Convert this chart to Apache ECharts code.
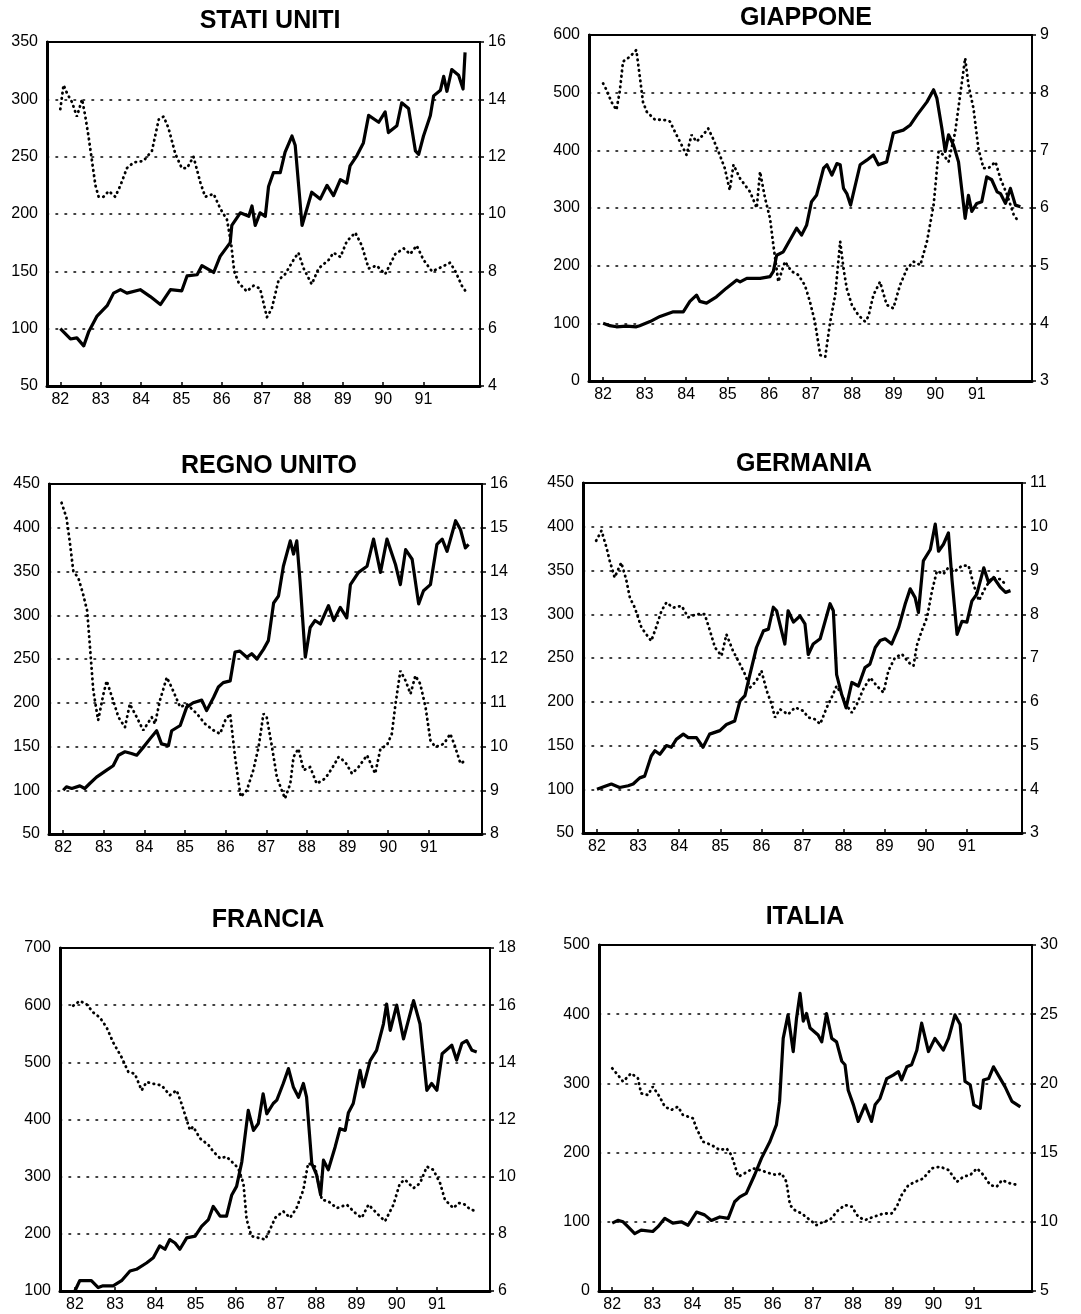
<!DOCTYPE html>
<html><head><meta charset="utf-8">
<script src="https://cdn.jsdelivr.net/npm/echarts/dist/echarts.min.js"></script>
<style>html,body{margin:0;padding:0;background:#fff}#chart{width:1081px;height:1314px}</style>
</head><body><div id="chart"></div>
<script>
const yearTicks = [82,83,84,85,86,87,88,89,90,91];

// STATI UNITI
const usStockT = [82.00,82.25,82.41,82.58,82.70,82.91,83.16,83.32,83.49,83.65,83.98,84.23,84.48,84.73,85.01,85.14,85.39,85.51,85.80,85.96,86.21,86.25,86.46,86.67,86.75,86.83,86.95,87.08,87.16,87.28,87.45,87.57,87.74,87.82,87.99,88.23,88.44,88.61,88.77,88.94,89.10,89.18,89.35,89.51,89.64,89.89,90.05,90.13,90.34,90.46,90.63,90.80,90.88,91.00,91.17,91.25,91.42,91.50,91.58,91.70,91.87,91.98,92.03];
const usStock  = [100,91,92,85,97,111,120,131,134,131,134,128,121,134,133,146,147,155,149,163,175,190,201,198,207,190,201,198,224,236,236,254,268,260,190,219,213,225,216,230,227,242,251,262,286,280,289,271,277,297,292,255,252,268,286,303,308,320,307,326,321,309,341];
const usRateT  = [82.00,82.08,82.17,82.29,82.41,82.54,82.62,82.70,82.78,82.87,82.95,83.07,83.20,83.36,83.49,83.65,83.82,84.06,84.27,84.44,84.56,84.68,84.85,85.01,85.14,85.30,85.47,85.59,85.80,85.96,86.13,86.23,86.31,86.42,86.62,86.79,86.95,87.12,87.24,87.41,87.57,87.78,87.90,88.03,88.23,88.40,88.65,88.77,88.94,89.10,89.31,89.47,89.64,89.84,90.05,90.30,90.51,90.67,90.83,91.00,91.21,91.37,91.66,91.79,91.95,92.07];
const usRate   = [13.66,14.5,14.2,13.9,13.4,14.0,13.4,12.7,11.9,11.0,10.6,10.6,10.8,10.6,11.0,11.6,11.8,11.85,12.2,13.3,13.4,13.0,12.1,11.6,11.6,12.0,11.1,10.6,10.7,10.2,9.8,9.0,8.0,7.6,7.3,7.5,7.4,6.4,6.7,7.7,7.9,8.4,8.65,8.1,7.55,8.1,8.4,8.65,8.5,9.05,9.35,8.9,8.1,8.2,7.9,8.6,8.8,8.6,8.9,8.4,8.0,8.1,8.3,8.0,7.5,7.25];

// GIAPPONE
const jpStockT = [82.00,82.16,82.32,82.56,82.80,82.88,83.13,83.37,83.69,83.93,84.09,84.25,84.33,84.49,84.73,84.97,85.22,85.30,85.46,85.78,86.02,86.10,86.18,86.34,86.66,86.78,86.90,87.02,87.14,87.31,87.39,87.51,87.63,87.71,87.79,87.87,87.96,88.19,88.35,88.51,88.63,88.83,88.99,89.23,89.40,89.56,89.80,89.96,90.04,90.16,90.24,90.32,90.44,90.56,90.72,90.80,90.88,91.00,91.12,91.24,91.36,91.49,91.57,91.69,91.81,91.93,92.05];
const jpStock  = [100,96,94,95,94,96,103,112,120,120,138,149,138,135,146,161,175,172,178,178,181,190,218,224,265,253,270,311,322,369,375,357,377,375,334,325,305,375,383,392,375,380,430,435,444,461,484,505,490,438,398,427,409,380,282,322,294,308,311,354,349,328,325,308,334,305,302];
const jpRateT  = [82.00,82.08,82.20,82.32,82.40,82.48,82.60,82.68,82.80,82.88,82.96,83.05,83.25,83.45,83.61,83.73,83.85,84.01,84.13,84.25,84.41,84.53,84.65,84.81,84.93,85.05,85.14,85.30,85.54,85.70,85.78,85.90,86.02,86.10,86.22,86.38,86.54,86.70,86.86,86.98,87.10,87.23,87.35,87.47,87.59,87.71,87.79,87.87,87.99,88.15,88.31,88.39,88.51,88.67,88.83,88.99,89.15,89.32,89.48,89.64,89.80,89.96,90.08,90.20,90.32,90.48,90.60,90.72,90.80,90.92,91.04,91.16,91.28,91.45,91.57,91.73,91.89,92.01];
const jpRate   = [8.16,8.05,7.84,7.70,8.02,8.54,8.6,8.65,8.74,8.3,7.84,7.67,7.53,7.53,7.5,7.32,7.15,6.92,7.27,7.15,7.27,7.38,7.2,6.92,6.69,6.31,6.75,6.51,6.28,6.0,6.63,6.17,5.82,5.36,4.72,5.07,4.9,4.84,4.66,4.38,4.03,3.45,3.42,4.03,4.49,5.42,4.95,4.6,4.32,4.14,4.03,4.12,4.49,4.72,4.32,4.26,4.66,4.95,5.07,5.01,5.42,6.05,6.98,6.92,6.8,7.32,7.96,8.6,8.13,7.73,7.03,6.69,6.69,6.8,6.51,6.23,5.88,5.76];

// REGNO UNITO
const ukStockT = [82.00,82.08,82.21,82.41,82.53,82.66,82.82,83.07,83.23,83.36,83.52,83.68,83.81,83.97,84.14,84.30,84.42,84.59,84.67,84.88,85.04,85.20,85.41,85.53,85.70,85.82,85.94,86.11,86.23,86.35,86.52,86.64,86.77,86.93,87.05,87.18,87.30,87.42,87.59,87.67,87.75,87.83,87.96,88.08,88.20,88.33,88.53,88.66,88.82,88.98,89.07,89.27,89.48,89.64,89.81,89.97,90.18,90.30,90.43,90.59,90.75,90.87,91.04,91.20,91.33,91.45,91.66,91.78,91.90,91.98];
const ukStock  = [100,104,102,105,102,108,115,123,128,140,144,142,140,149,159,168,153,151,168,174,195,200,203,191,206,218,223,225,258,259,252,256,250,261,271,314,322,356,385,370,385,339,252,286,294,290,311,294,309,297,335,349,356,387,349,387,358,335,375,364,313,328,335,381,387,373,408,398,377,381];
const ukRateT  = [81.96,82.08,82.16,82.25,82.37,82.49,82.59,82.66,82.74,82.86,82.99,83.07,83.23,83.36,83.52,83.64,83.81,83.97,84.18,84.26,84.38,84.55,84.67,84.88,85.04,85.29,85.49,85.70,85.86,85.99,86.11,86.23,86.31,86.37,86.52,86.68,86.81,86.93,87.01,87.14,87.26,87.38,87.46,87.59,87.67,87.79,87.92,88.08,88.24,88.45,88.61,88.78,88.94,89.11,89.27,89.48,89.68,89.81,89.97,90.09,90.18,90.30,90.43,90.55,90.67,90.79,90.92,91.04,91.16,91.37,91.53,91.65,91.78,91.90];
const ukRate   = [15.57,15.23,14.69,14.0,13.86,13.48,13.1,12.26,11.28,10.6,11.2,11.5,11.05,10.67,10.44,10.97,10.67,10.37,10.67,10.52,11.05,11.58,11.35,10.9,10.97,10.75,10.52,10.37,10.29,10.6,10.75,9.76,9.23,8.85,9.0,9.46,9.99,10.75,10.67,9.99,9.3,9.0,8.81,9.15,9.76,9.95,9.46,9.53,9.15,9.27,9.49,9.76,9.65,9.38,9.53,9.8,9.38,9.95,10.03,10.29,10.97,11.73,11.5,11.2,11.62,11.43,10.9,10.14,9.99,10.06,10.29,9.99,9.61,9.68];

// GERMANIA
const deStockT = [82.00,82.23,82.35,82.55,82.76,82.88,83.04,83.16,83.32,83.41,83.53,83.69,83.81,83.93,84.10,84.22,84.42,84.58,84.74,84.99,85.15,85.35,85.48,85.60,85.72,85.88,86.05,86.17,86.29,86.37,86.49,86.57,86.65,86.78,86.94,87.06,87.14,87.26,87.43,87.55,87.67,87.75,87.83,87.95,88.06,88.20,88.36,88.52,88.64,88.77,88.89,89.01,89.17,89.34,89.50,89.62,89.74,89.82,89.94,90.11,90.23,90.31,90.43,90.55,90.64,90.76,90.88,91.00,91.12,91.24,91.41,91.53,91.65,91.81,91.94,92.06];
const deStock  = [100,104,106,102,104,106,113,115,138,144,140,150,148,157,163,159,159,148,163,167,174,178,201,207,231,262,281,283,308,304,281,266,304,291,298,289,254,266,272,292,312,304,231,209,193,222,218,239,243,262,270,272,266,285,312,329,319,302,361,374,403,372,380,393,338,277,292,291,315,323,353,336,342,331,325,327];
const deRateT  = [81.98,82.11,82.23,82.31,82.43,82.59,82.71,82.80,82.92,83.08,83.20,83.32,83.45,83.57,83.69,83.85,84.06,84.22,84.42,84.62,84.75,84.87,85.03,85.15,85.31,85.44,85.60,85.72,85.88,86.00,86.13,86.25,86.33,86.45,86.65,86.82,87.02,87.14,87.30,87.43,87.59,87.71,87.83,87.95,88.08,88.20,88.32,88.48,88.65,88.81,88.97,89.09,89.25,89.42,89.58,89.70,89.78,89.90,90.03,90.15,90.27,90.43,90.55,90.72,90.88,91.04,91.16,91.29,91.45,91.61,91.81,91.98];
const deRate   = [9.68,9.91,9.53,9.22,8.84,9.18,8.8,8.38,8.15,7.7,7.54,7.39,7.73,8.08,8.27,8.15,8.19,7.93,8.0,8.0,7.62,7.24,7.05,7.54,7.16,6.93,6.63,6.32,6.48,6.71,6.25,5.94,5.64,5.83,5.71,5.87,5.79,5.64,5.6,5.49,5.87,6.1,6.36,6.17,5.91,5.75,5.94,6.29,6.55,6.36,6.21,6.71,7.01,7.09,6.9,6.82,7.28,7.62,7.93,8.53,8.99,8.92,9.07,8.99,9.11,9.11,8.69,8.31,8.61,8.84,8.8,8.65];

// FRANCIA
const frStockT = [82.00,82.12,82.25,82.41,82.58,82.70,82.95,83.16,83.37,83.53,83.78,83.95,84.11,84.24,84.36,84.49,84.61,84.78,84.99,85.15,85.32,85.44,85.61,85.77,85.90,86.02,86.15,86.31,86.44,86.56,86.68,86.77,86.93,87.02,87.18,87.31,87.43,87.56,87.68,87.76,87.89,88.01,88.11,88.18,88.30,88.47,88.59,88.72,88.80,88.92,89.09,89.17,89.34,89.50,89.67,89.75,89.84,90.00,90.17,90.42,90.58,90.75,90.87,91.00,91.13,91.37,91.49,91.62,91.74,91.87,91.99];
const frStock  = [100,118,118,118,106,109,109,118,135,138,149,158,179,173,190,184,173,193,196,213,225,248,231,231,268,283,326,416,381,393,445,410,428,434,463,489,457,439,463,439,323,303,268,329,312,352,384,381,412,428,486,457,503,521,567,602,556,600,541,608,567,451,463,451,515,530,504,533,538,521,518];
const frRateT  = [81.96,82.12,82.29,82.46,82.62,82.79,82.95,83.16,83.33,83.49,83.66,83.78,83.95,84.16,84.36,84.53,84.65,84.78,84.86,84.94,85.11,85.32,85.44,85.61,85.77,85.94,86.06,86.19,86.27,86.39,86.56,86.73,86.85,86.98,87.18,87.35,87.51,87.68,87.80,87.97,88.14,88.30,88.51,88.76,88.97,89.13,89.30,89.50,89.71,89.92,90.08,90.21,90.42,90.58,90.75,90.91,91.08,91.20,91.41,91.54,91.70,91.83,91.99];
const frRate   = [15.98,16.15,16.03,15.74,15.57,15.22,14.7,14.18,13.66,13.6,13.02,13.31,13.25,13.19,12.85,13.02,12.56,11.98,11.63,11.75,11.34,11.11,10.88,10.64,10.7,10.47,10.3,9.77,8.5,7.92,7.86,7.8,8.15,8.56,8.79,8.56,8.9,9.54,10.47,10.35,9.19,9.14,8.9,9.02,8.73,8.56,9.02,8.73,8.44,9.02,9.77,9.89,9.6,9.77,10.35,10.24,9.77,9.19,8.9,9.08,9.02,8.85,8.79];

// ITALIA
const itStockT = [82.00,82.14,82.27,82.39,82.56,82.72,83.01,83.14,83.31,83.51,83.72,83.89,84.10,84.30,84.47,84.68,84.89,85.05,85.18,85.34,85.55,85.72,85.93,86.09,86.17,86.26,86.38,86.51,86.59,86.68,86.76,86.84,86.93,87.13,87.22,87.34,87.47,87.59,87.72,87.80,87.88,88.01,88.13,88.30,88.46,88.55,88.67,88.84,89.00,89.13,89.21,89.34,89.46,89.59,89.71,89.88,90.04,90.25,90.38,90.54,90.67,90.79,90.92,91.01,91.17,91.25,91.38,91.50,91.62,91.79,91.96,92.17];
const itStock  = [98,102,100,93,83,88,86,93,105,98,100,95,114,110,102,107,105,129,136,141,168,192,216,240,274,365,399,346,393,430,390,401,380,370,360,401,365,360,332,327,290,269,245,269,245,269,278,307,312,317,305,324,327,348,387,346,365,348,365,399,385,303,298,269,264,305,307,324,312,295,274,266];
const itRateT  = [82.00,82.14,82.27,82.47,82.64,82.72,82.89,83.01,83.18,83.31,83.47,83.64,83.76,84.01,84.10,84.26,84.47,84.68,84.85,84.97,85.05,85.14,85.30,85.51,85.68,85.93,86.09,86.22,86.34,86.43,86.55,86.72,86.88,87.09,87.26,87.42,87.63,87.80,87.97,88.13,88.30,88.51,88.76,88.96,89.09,89.21,89.38,89.55,89.75,89.96,90.17,90.38,90.59,90.75,90.92,91.09,91.25,91.42,91.58,91.71,91.92,92.12];
const itRate   = [21.09,20.61,20.13,20.73,20.37,19.28,19.16,19.77,19.04,18.32,18.08,18.32,17.72,17.48,16.75,15.79,15.55,15.18,15.3,14.82,14.1,13.26,13.5,13.86,13.74,13.5,13.38,13.5,12.89,11.21,10.84,10.6,10.24,9.76,10.0,10.12,10.84,11.21,11.09,10.36,10.12,10.36,10.6,10.6,11.09,11.93,12.65,12.89,13.13,13.86,13.98,13.74,12.89,13.26,13.38,13.86,13.38,12.65,12.53,13.01,12.77,12.65];

const zip = (t, v) => t.map((x, i) => [x, v[i]]);
const FONT = "'Liberation Sans', Arial, Helvetica, sans-serif";

const panels = [
  {title:'STATI UNITI', st:usStockT, sv:usStock, rt:usRateT, rv:usRate, L:[50,350,50], R:[4,16,2], g:[47,42,433,344], xr:[81.67,92.40], tx:270, ty:9},
  {title:'GIAPPONE',    st:jpStockT, sv:jpStock, rt:jpRateT, rv:jpRate, L:[0,600,100], R:[3,9,1], g:[589,35,443,346], xr:[81.66,92.33], tx:806, ty:6},
  {title:'REGNO UNITO', st:ukStockT, sv:ukStock, rt:ukRateT, rv:ukRate, L:[50,450,50], R:[8,16,1], g:[49,484,433,350], xr:[81.65,92.31], tx:269, ty:454},
  {title:'GERMANIA',    st:deStockT, sv:deStock, rt:deRateT, rv:deRate, L:[50,450,50], R:[3,11,1], g:[583,483,439,350], xr:[81.66,92.34], tx:804, ty:452},
  {title:'FRANCIA',     st:frStockT, sv:frStock, rt:frRateT, rv:frRate, L:[100,700,100], R:[6,18,2], g:[60,948,430,343], xr:[81.63,92.32], tx:268, ty:908},
  {title:'ITALIA',      st:itStockT, sv:itStock, rt:itRateT, rv:itRate, L:[0,500,100], R:[5,30,5], g:[599,945,433,346], xr:[81.67,92.46], tx:805, ty:905}
];

const option = {
  backgroundColor:'#fff',
  animation:false,
  title:[], grid:[], xAxis:[], yAxis:[], series:[]
};
const labelStyle = {color:'#000', fontSize:16, fontFamily:FONT};

panels.forEach((p, i) => {
  option.title.push({text:p.title, left:p.tx, top:p.ty, textAlign:'center', padding:0,
    textStyle:{fontSize:25, fontWeight:'bold', fontFamily:FONT, color:'#000'}});
  option.grid.push({left:p.g[0], top:p.g[1], width:p.g[2], height:p.g[3], show:true,
    borderColor:'#000', borderWidth:2, backgroundColor:'transparent', containLabel:false});
  option.xAxis.push({type:'value', gridIndex:i, min:p.xr[0], max:p.xr[1],
    axisLine:{show:true, onZero:false, lineStyle:{color:'#000', width:3}},
    axisTick:{show:true, inside:true, length:4, customValues:yearTicks, lineStyle:{color:'#000', width:1.5}},
    axisLabel:{show:true, customValues:yearTicks, margin:6, formatter:v=>String(v), ...labelStyle},
    splitLine:{show:false}});
  option.yAxis.push({type:'value', gridIndex:i, position:'left', min:p.L[0], max:p.L[1], interval:p.L[2],
    axisLine:{show:true, lineStyle:{color:'#000', width:3}},
    axisTick:{show:false},
    axisLabel:{margin:9, ...labelStyle},
    splitLine:{show:true, lineStyle:{color:'#000', width:1.6, type:[1.6,7.4], cap:'round'}}});
  option.yAxis.push({type:'value', gridIndex:i, position:'right', min:p.R[0], max:p.R[1], interval:p.R[2],
    axisLine:{show:false},
    axisTick:{show:true, length:4, lineStyle:{color:'#000', width:1.5}},
    axisLabel:{margin:8, ...labelStyle},
    splitLine:{show:false}});
  option.series.push({type:'line', xAxisIndex:i, yAxisIndex:2*i, data:zip(p.st, p.sv),
    showSymbol:false, symbol:'none', lineStyle:{color:'#000', width:3.2, join:'round'}, z:3});
  option.series.push({type:'line', xAxisIndex:i, yAxisIndex:2*i+1, data:zip(p.rt, p.rv),
    showSymbol:false, symbol:'none', lineStyle:{color:'#000', width:2.8, type:[0.5,4.8], cap:'round'}, z:2});
});

const chart = echarts.init(document.getElementById('chart'), null, {renderer:'canvas'});
chart.setOption(option);
</script>
</body></html>
